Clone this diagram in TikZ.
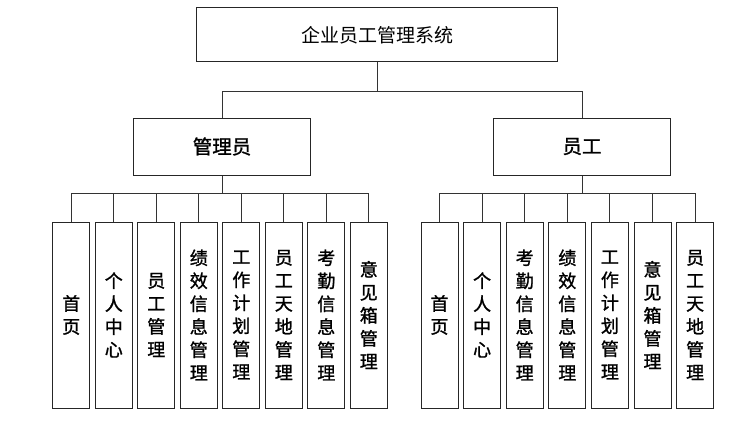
\documentclass[tikz,border=0pt]{standalone}
\usepackage{fontspec}
\newfontfamily\cjk{Noto Sans CJK SC}
\newfontfamily\cjkbold[FakeBold=1.3]{Noto Sans CJK SC}
\begin{document}
\begin{tikzpicture}[x=1pt,y=-1pt,
  box/.style={draw=black!85,line width=1pt,inner sep=0pt,fill=white},
  topbox/.style={box,minimum width=361pt,minimum height=54pt,font=\cjk\fontsize{19}{22}\selectfont},
  midbox/.style={box,minimum width=177pt,minimum height=57pt,font=\cjkbold\fontsize{19.5}{22}\selectfont},
  leaf/.style={box,minimum width=37pt,minimum height=186pt,align=center,font=\cjkbold\fontsize{18}{23}\selectfont},
  link/.style={draw=black!80,line width=1pt}]
\useasboundingbox (0,0) rectangle (739,428);
\node[topbox] (root) at (377,35) {企业员工管理系统};
\node[midbox] (mgr) at (222,146.5) {管理员};
\node[midbox] (emp) at (582,146.5) {员工};
% manager children
\node[leaf] (a1) at (71.3,315) {首\\页};
\node[leaf] (a2) at (113.8,315) {个\\人\\中\\心};
\node[leaf] (a3) at (156.3,315) {员\\工\\管\\理};
\node[leaf] (a4) at (198.8,315) {绩\\效\\信\\息\\管\\理};
\node[leaf] (a5) at (241.3,315) {工\\作\\计\\划\\管\\理};
\node[leaf] (a6) at (283.8,315) {员\\工\\天\\地\\管\\理};
\node[leaf] (a7) at (326.3,315) {考\\勤\\信\\息\\管\\理};
\node[leaf] (a8) at (368.8,315) {意\\见\\箱\\管\\理};
% employee children
\node[leaf] (b1) at (439.5,315) {首\\页};
\node[leaf] (b2) at (482.1,315) {个\\人\\中\\心};
\node[leaf] (b3) at (524.7,315) {考\\勤\\信\\息\\管\\理};
\node[leaf] (b4) at (567.3,315) {绩\\效\\信\\息\\管\\理};
\node[leaf] (b5) at (609.9,315) {工\\作\\计\\划\\管\\理};
\node[leaf] (b6) at (652.5,315) {意\\见\\箱\\管\\理};
\node[leaf] (b7) at (695.1,315) {员\\工\\天\\地\\管\\理};
% connectors
\coordinate (top) at (377,91);
\coordinate (lb) at (222,193);
\coordinate (rb) at (582,193);
\draw[link] (root.south) -- (top);
\draw[link] (top) -| (mgr.north);
\draw[link] (top) -| (emp.north);
\draw[link] (mgr.south) -- (lb);
\foreach \c in {a1,a2,a3,a4,a5,a6,a7,a8} \draw[link] (lb) -| (\c.north);
\draw[link] (emp.south) -- (rb);
\foreach \c in {b1,b2,b3,b4,b5,b6,b7} \draw[link] (rb) -| (\c.north);
\end{tikzpicture}
\end{document}
